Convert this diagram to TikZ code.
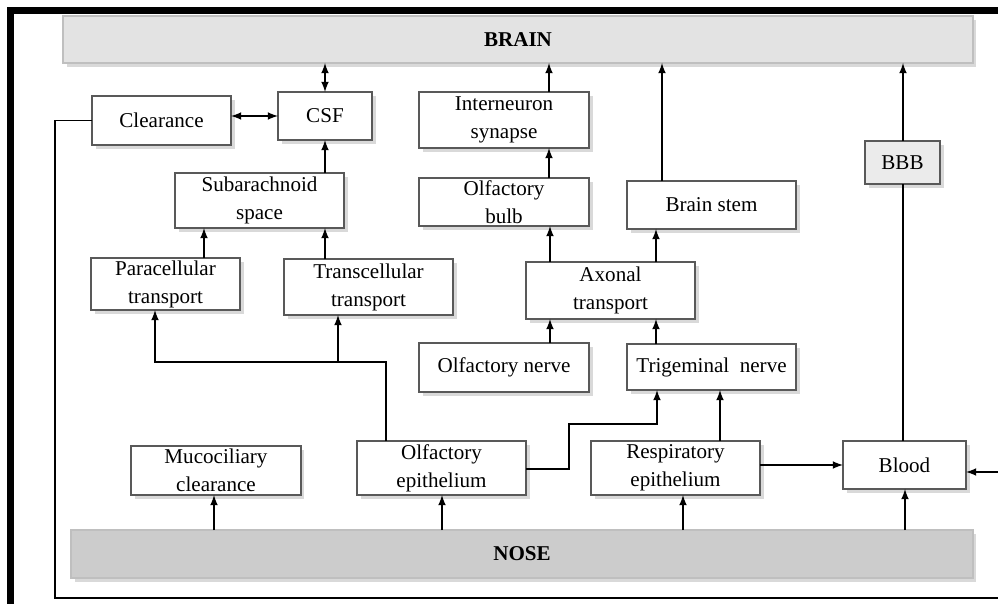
\documentclass[tikz,border=0pt]{standalone}
\usepackage{fontspec}
\setmainfont{Liberation Serif}
\usetikzlibrary{shadows}

\tikzset{
  box/.style={draw=black!65, line width=0.8pt, fill=white, align=center,
    inner sep=0pt, outer sep=0pt,
    drop shadow={shadow xshift=2pt, shadow yshift=-2pt, opacity=0.3},
    font=\fontsize{12}{16}\selectfont},
  bar/.style={box, draw=black!25, font=\fontsize{12}{16}\selectfont\bfseries},
}

\begin{document}
\begin{tikzpicture}[x=0.02cm,y=-0.02cm,>=latex,line width=1pt]
\useasboundingbox (0,0) rectangle (998,604);
\draw [line width=4pt] (10.5,604) -- (10.5,10.5) -- (998,10.5);

% brain and nose
\node (Brain) [bar, fill=black!11, minimum width=18.2cm, minimum height=0.94cm] at (518,39.5) {BRAIN};
\node (Nose) [bar, fill=black!20, minimum width=18.04cm, minimum height=0.96cm] at (522,554) {NOSE};

% boxes
\node (Clr) [box, minimum width=2.78cm, minimum height=0.98cm] at (161.5,120.5) {Clearance};
\node (CSF) [box, minimum width=1.88cm, minimum height=0.96cm] at (325,116) {CSF};
\node (Inter) [box, minimum width=3.4cm, minimum height=1.12cm] at (504,120) {Interneuron\\synapse};
\node (BBB) [box, fill=black!8, minimum width=1.5cm, minimum height=0.86cm] at (902.5,162.5) {BBB};
\node (Sub) [box, minimum width=3.38cm, minimum height=1.1cm] at (259.5,200.5) {Subarachnoid\\space};
\node (Bulb) [box, minimum width=3.4cm, minimum height=0.96cm] at (504,202) {Olfactory\\bulb};
\node (Stem) [box, minimum width=3.38cm, minimum height=0.96cm] at (711.5,205) {Brain stem};
\node (Para) [box, minimum width=2.98cm, minimum height=1.04cm] at (165.5,284) {Paracellular\\transport};
\node (Trans) [box, minimum width=3.38cm, minimum height=1.12cm] at (368.5,287) {Transcellular\\transport};
\node (Axon) [box, minimum width=3.38cm, minimum height=1.14cm] at (610.5,290.5) {Axonal\\transport};
\node (ONerve) [box, minimum width=3.4cm, minimum height=0.98cm] at (504,367.5) {Olfactory nerve};
\node (TNerve) [box, minimum width=3.38cm, minimum height=0.92cm] at (711.5,367) {Trigeminal\ \ nerve};
\node (Muco) [box, minimum width=3.4cm, minimum height=0.98cm] at (216,470.5) {Mucociliary\\clearance};
\node (OEpi) [box, minimum width=3.38cm, minimum height=1.08cm] at (441.5,468) {Olfactory\\epithelium};
\node (REpi) [box, minimum width=3.38cm, minimum height=1.08cm] at (675.5,468) {Respiratory\\epithelium};
\node (Blood) [box, minimum width=2.46cm, minimum height=0.96cm] at (904.5,465) {Blood};

\coordinate (J) at (338,362);
\coordinate (Rt) at (1004,598);

% brain side
\draw [<->] (CSF) -- (CSF |- Brain.south);
\draw [<->] (Clr.east |- CSF) -- (CSF);
\draw [->] (Sub.north -| CSF) -- (CSF);
\draw [->] (Para.north -| 204,0) -- (Sub.south -| 204,0);
\draw [->] (Trans.north -| CSF) -- (Sub.south -| CSF);
\draw [->] (Inter.north -| 549,0) -- (Brain.south -| 549,0);
\draw [->] (Bulb.north -| 549,0) -- (Inter.south -| 549,0);
\draw [->] (Axon.north -| 550,0) -- (Bulb.south -| 550,0);
\draw [->] (Axon.north -| 656,0) -- (Stem.south -| 656,0);
\draw [->] (Stem.north -| 662,0) -- (Brain.south -| 662,0);
\draw [->] (ONerve.north -| 550,0) -- (Axon.south -| 550,0);
\draw [->] (TNerve.north -| 656,0) -- (Axon.south -| 656,0);
\draw [->] (BBB.north -| 903,0) -- (Brain.south -| 903,0);
\draw (Blood.north -| 903,0) -- (BBB.south -| 903,0);

% nose side
\draw [->] (OEpi.north -| 386,0) |- (155,362) -- (Para.south -| 155,0);
\draw [->] (J) -- (Trans.south -| J);
\draw [->] (OEpi.east |- 0,469) -| (569,424) -| (TNerve.south -| 657,0);
\draw [->] (REpi.north -| 720,0) -- (TNerve.south -| 720,0);
\draw [->] (REpi.east |- Blood) -- (Blood);
\draw [->] (Nose.north -| 214,0) -- (Muco.south -| 214,0);
\draw [->] (Nose.north -| 442,0) -- (OEpi.south -| 442,0);
\draw [->] (Nose.north -| 683,0) -- (REpi.south -| 683,0);
\draw [->] (Nose.north -| 905,0) -- (Blood.south -| 905,0);

% clearance loop
\draw [->] (Clr.west) -| (55,598) -- (Rt) |- (Blood.east |- 0,472);
\end{tikzpicture}
\end{document}
